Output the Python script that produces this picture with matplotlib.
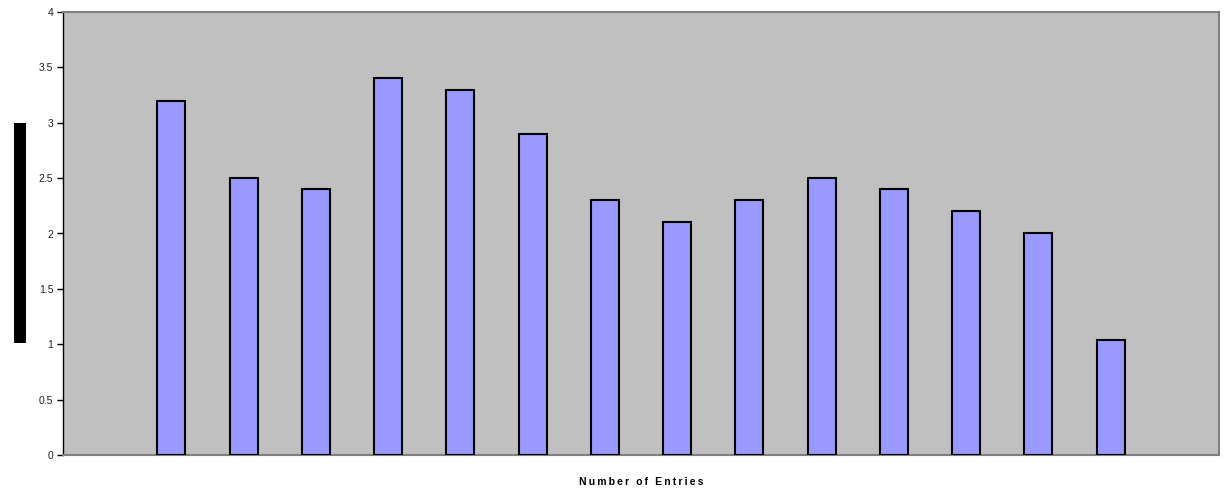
import matplotlib
matplotlib.use('Agg')
import matplotlib.pyplot as plt
import matplotlib.patches as mpatches

# ── data ──
positions = list(range(1, 15))
values = [3.2, 2.5, 2.4, 3.4, 3.3, 2.9, 2.3, 2.1, 2.3, 2.5, 2.4, 2.2, 2.0, 1.04]
yticks = [0, 0.5, 1, 1.5, 2, 2.5, 3, 3.5, 4]
ytick_labels = ['0', '0.5', '1', '1.5', '2', '2.5', '3', '3.5', '4']
xlabel = 'Number of Entries'

BAR_COLOR = '#9999FF'
PLOT_BG = '#C0C0C0'

W, H = 1228, 494
fig = plt.figure(figsize=(W / 100, H / 100), dpi=100)
fig.patch.set_facecolor('white')

# plot area in pixels: x 63..1219, y 12..455
ax = fig.add_axes([63 / W, 1 - 455 / H, (1219 - 63) / W, (455 - 12) / H])
ax.set_facecolor(PLOT_BG)

ax.bar(positions, values, width=0.39, color=BAR_COLOR,
       edgecolor='black', linewidth=1.5, zorder=3)

ax.set_xlim(-0.5, 15.5)
ax.set_ylim(0, 4)
ax.set_yticks(yticks)
ax.set_yticklabels(ytick_labels, fontsize=7.5, family='Liberation Sans', color='#222222')
ax.set_xticks([])
ax.tick_params(axis='y', direction='out', length=4, width=1, pad=3)

for side in ('top', 'right', 'bottom'):
    ax.spines[side].set_color('#808080')
    ax.spines[side].set_linewidth(1.5)
ax.spines['left'].set_color('black')
ax.spines['left'].set_linewidth(1)

# Excel-style letter spacing on the axis title
spaced = '\u2009'.join(xlabel)
ax.set_xlabel(spaced, fontsize=7.5, fontweight='bold',
              family=['Liberation Sans', 'DejaVu Sans'], labelpad=16)

# black block where the y-axis title should be
fig.patches.append(mpatches.Rectangle((14 / W, 1 - 343 / H), 12 / W, 220 / H,
                                      transform=fig.transFigure,
                                      facecolor='black', edgecolor='none'))

plt.savefig('out.png', dpi=100, facecolor=fig.get_facecolor())
